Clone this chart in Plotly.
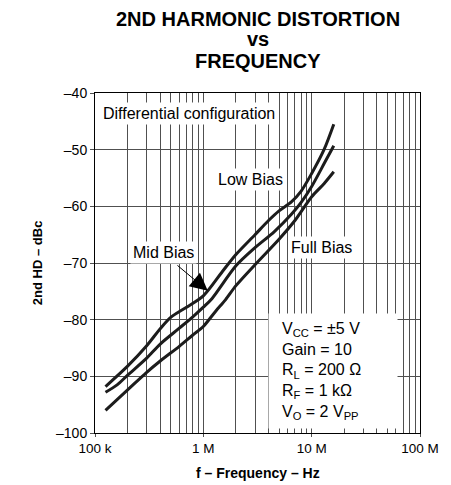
import plotly.graph_objects as go

# 2nd harmonic distortion vs frequency, three bias settings
freq_low = [1.25e5, 2.0e5, 3.0e5, 4.0e5, 5.0e5, 7.0e5, 1.0e6, 1.5e6, 2.0e6, 3.0e6,
            4.0e6, 5.0e6, 6.5e6, 8.0e6, 1.0e7, 1.3e7, 1.6e7]
hd2_low = [-91.8, -88.2, -84.6, -81.6, -79.6, -77.8, -75.8, -71.5, -68.5, -65.0,
           -62.5, -60.8, -59.2, -57.3, -54.2, -50.0, -45.5]

freq_mid = [1.25e5, 1.6e5, 2.0e5, 3.0e5, 4.0e5, 6.0e5, 8.0e5, 1.0e6, 1.2e6, 2.0e6,
            3.0e6, 4.5e6, 6.5e6, 8.0e6, 1.0e7, 1.3e7, 1.6e7]
hd2_mid = [-92.8, -91.5, -89.8, -86.8, -84.3, -81.5, -79.5, -77.8, -76.3, -70.5,
           -67.3, -64.5, -61.4, -59.3, -56.5, -52.5, -49.3]

freq_full = [1.25e5, 2.0e5, 3.0e5, 4.0e5, 6.0e5, 8.0e5, 1.0e6, 1.3e6, 1.6e6, 2.0e6,
             3.0e6, 5.0e6, 7.0e6, 1.0e7, 1.3e7, 1.6e7]
hd2_full = [-96.0, -92.4, -89.3, -87.3, -84.7, -82.7, -81.2, -78.5, -76.5, -74.0,
            -70.3, -65.8, -62.5, -58.3, -56.0, -53.9]

x_major = [1e5, 1e6, 1e7, 1e8]
x_labels = ["100 k", "1 M", "10 M", "100 M"]
x_minor = [k * 10 ** d for d in (5, 6, 7) for k in range(2, 10)]
y_ticks = [-100, -90, -80, -70, -60, -50, -40]
y_labels = ["–100", "–90", "–80", "–70", "–60", "–50", "–40"]

FONT = "Arial, Liberation Sans, sans-serif"
GRID = "#505050"

fig = go.Figure()
for fx, fy in [(freq_low, hd2_low), (freq_mid, hd2_mid), (freq_full, hd2_full)]:
    fig.add_trace(go.Scatter(
        x=fx, y=fy, mode="lines",
        line=dict(color="#1c1c1c", width=3, shape="spline", smoothing=0.8),
        showlegend=False, hoverinfo="skip",
    ))

# page body adds ~8px offset, so the figure is sized 8px smaller
fig.update_layout(
    width=443,
    height=477,
    margin=dict(l=87, r=31, t=85, b=52),
    paper_bgcolor="white",
    plot_bgcolor="white",
    font=dict(family=FONT, color="black", size=14),
    showlegend=False,
)
fig.update_xaxes(
    type="log",
    range=[5, 8],
    tickvals=x_major,
    ticktext=x_labels,
    ticks="outside",
    ticklen=3,
    tickcolor=GRID,
    showgrid=True,
    gridcolor=GRID,
    gridwidth=1.2,
    minor=dict(tickvals=x_minor, showgrid=True, gridcolor=GRID, gridwidth=1.2),
    showline=True,
    linecolor="black",
    linewidth=1,
    mirror=True,
    zeroline=False,
    tickfont=dict(size=13.5),
)
fig.update_yaxes(
    range=[-100, -40],
    tickvals=y_ticks,
    ticktext=y_labels,
    ticks="outside",
    ticklen=4,
    tickcolor=GRID,
    showgrid=True,
    gridcolor=GRID,
    gridwidth=1.2,
    showline=True,
    linecolor="black",
    linewidth=1,
    mirror=True,
    zeroline=False,
    tickfont=dict(size=14),
)

# title, three lines
for text, ypos in [("2ND HARMONIC DISTORTION", 1.219), ("vs", 1.159), ("FREQUENCY", 1.094)]:
    fig.add_annotation(
        text=f"<b>{text}</b>", xref="paper", yref="paper", x=0.5, y=ypos,
        showarrow=False, yanchor="middle", font=dict(size=20),
    )

fig.add_annotation(
    text="<b>2nd HD – dBc</b>", xref="paper", yref="paper", x=-0.178, y=0.5,
    xanchor="center", yanchor="middle",
    textangle=-90, showarrow=False, font=dict(size=13),
)
fig.add_annotation(
    text="<b>f – Frequency – Hz</b>", xref="paper", yref="paper", x=0.5, y=-0.118,
    yanchor="middle", showarrow=False, font=dict(size=14),
)

# in-plot labels (log axis -> positions given as log10)
labels = [
    ("Differential configuration", 5.866, -43.7),
    ("Low Bias", 6.438, -55.35),
    ("Full Bias", 7.092, -67.2),
    ("Mid Bias", 5.636, -68.2),
]
for text, lx, ly in labels:
    fig.add_annotation(
        text=text, x=lx, y=ly, showarrow=False, bgcolor="white",
        borderpad=2, font=dict(size=16),
    )

fig.add_annotation(
    text="", x=6.041, y=-74.9, ax=5.747, ay=-70.2, axref="x", ayref="y",
    showarrow=True, arrowhead=2, arrowsize=3.5, arrowwidth=1, arrowcolor="black",
    standoff=0,
)

params = [
    "V<sub>CC</sub> = ±5 V",
    "Gain = 10",
    "R<sub>L</sub> = 200 Ω",
    "R<sub>F</sub> = 1 kΩ",
    "V<sub>O</sub> = 2 V<sub>PP</sub>",
]
fig.add_annotation(
    text="<br>".join("\u2002" + p for p in params), x=7.194, y=-89.0, showarrow=False,
    align="left", width=118, height=104, borderpad=5, bgcolor="white",
    font=dict(size=16),
)

fig.write_html("out.html")
